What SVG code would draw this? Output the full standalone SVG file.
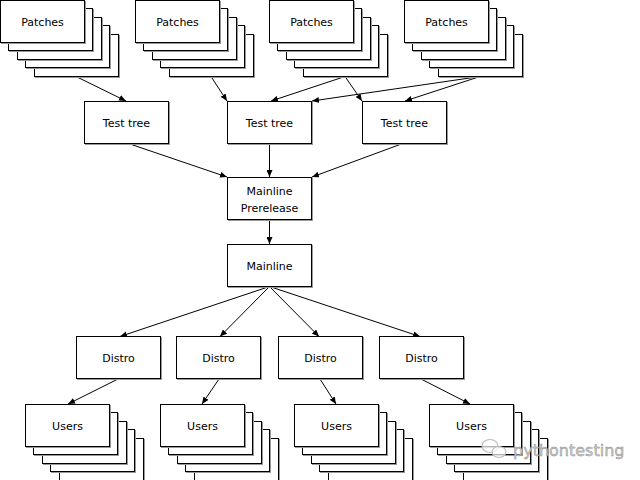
<svg xmlns="http://www.w3.org/2000/svg" xmlns:xlink="http://www.w3.org/1999/xlink" width="640" height="480" viewBox="0 0 640 480">
<defs>
<style>
.b{fill:#fff;stroke:#000;stroke-width:1}
.s{fill:none;stroke:#999;stroke-width:1}
.t{font-family:"DejaVu Sans",sans-serif;font-size:11px;fill:#000;text-anchor:middle}
.c{fill:none;stroke:#000;stroke-width:1;marker-end:url(#ah)}
.wm{font-family:"DejaVu Sans",sans-serif;font-size:16px;fill:#c8c8c8;stroke:#888;stroke-width:0.4}
</style>
<marker id="ah" markerUnits="userSpaceOnUse" markerWidth="8" markerHeight="6" refX="7" refY="3" orient="auto">
<path d="M0,0 L7,3 L0,6 z" fill="#000"/>
</marker>
<g id="box"><rect class="s" x="1.5" y="1.5" width="84" height="42"/><rect class="b" x="0.5" y="0.5" width="84" height="42"/></g>
<g id="stack">
<use xlink:href="#box" x="34" y="34"/>
<use xlink:href="#box" x="25" y="25"/>
<use xlink:href="#box" x="17" y="17"/>
<use xlink:href="#box" x="8" y="8"/>
<use xlink:href="#box" x="0" y="0"/>
</g>
</defs>
<rect width="640" height="480" fill="#fff"/>
<g id="connectors">
<line class="c" x1="76" y1="76.5" x2="126" y2="101"/>
<line class="c" x1="211" y1="76.5" x2="227" y2="101"/>
<line class="c" x1="345" y1="76.5" x2="271" y2="101"/>
<line class="c" x1="345" y1="76.5" x2="362" y2="101"/>
<line class="c" x1="480" y1="76.5" x2="312" y2="101"/>
<line class="c" x1="480" y1="76.5" x2="405" y2="101"/>
<line class="c" x1="127" y1="143" x2="227" y2="177"/>
<line class="c" x1="269.5" y1="143" x2="269.5" y2="177"/>
<line class="c" x1="404" y1="143" x2="312" y2="177"/>
<line class="c" x1="269.5" y1="219" x2="269.5" y2="244"/>
<line class="c" x1="269.5" y1="286.5" x2="120" y2="336.5"/>
<line class="c" x1="269.5" y1="286.5" x2="220" y2="336.5"/>
<line class="c" x1="269.5" y1="286.5" x2="319" y2="336.5"/>
<line class="c" x1="269.5" y1="286.5" x2="420" y2="336.5"/>
<line class="c" x1="118" y1="379" x2="68" y2="404"/>
<line class="c" x1="219" y1="379" x2="202" y2="404"/>
<line class="c" x1="320" y1="379" x2="336" y2="404"/>
<line class="c" x1="421" y1="379" x2="470" y2="404"/>
</g>
<g id="patches1"><use xlink:href="#stack" x="0" y="0"/><text class="t" x="42.5" y="25.5">Patches</text></g>
<g id="patches2"><use xlink:href="#stack" x="135" y="0"/><text class="t" x="177.5" y="25.5">Patches</text></g>
<g id="patches3"><use xlink:href="#stack" x="269" y="0"/><text class="t" x="311.5" y="25.5">Patches</text></g>
<g id="patches4"><use xlink:href="#stack" x="404" y="0"/><text class="t" x="446.5" y="25.5">Patches</text></g>
<g id="testtree1"><use xlink:href="#box" x="84" y="101"/><text class="t" x="126.5" y="126.5">Test tree</text></g>
<g id="testtree2"><use xlink:href="#box" x="227" y="101"/><text class="t" x="269.5" y="126.5">Test tree</text></g>
<g id="testtree3"><use xlink:href="#box" x="362" y="101"/><text class="t" x="404.5" y="126.5">Test tree</text></g>
<g id="prerelease"><use xlink:href="#box" x="227" y="177"/><text class="t" x="269.5" y="194.5">Mainline</text><text class="t" x="269.5" y="211.5">Prerelease</text></g>
<g id="mainline"><use xlink:href="#box" x="227" y="244"/><text class="t" x="269.5" y="269.5">Mainline</text></g>
<g id="distro1"><use xlink:href="#box" x="76" y="336"/><text class="t" x="118.5" y="361.5">Distro</text></g>
<g id="distro2"><use xlink:href="#box" x="176" y="336"/><text class="t" x="218.5" y="361.5">Distro</text></g>
<g id="distro3"><use xlink:href="#box" x="278" y="336"/><text class="t" x="320.5" y="361.5">Distro</text></g>
<g id="distro4"><use xlink:href="#box" x="379" y="336"/><text class="t" x="421.5" y="361.5">Distro</text></g>
<g id="users1"><use xlink:href="#stack" x="25" y="404"/><text class="t" x="67.5" y="429.5">Users</text></g>
<g id="users2"><use xlink:href="#stack" x="160" y="404"/><text class="t" x="202.5" y="429.5">Users</text></g>
<g id="users3"><use xlink:href="#stack" x="294" y="404"/><text class="t" x="336.5" y="429.5">Users</text></g>
<g id="users4"><use xlink:href="#stack" x="429" y="404"/><text class="t" x="471.5" y="429.5">Users</text></g>
<g id="watermark">
<ellipse cx="490" cy="446" rx="8" ry="6.5" fill="#fff" fill-opacity="0.7" stroke="#bbb" stroke-width="1.2"/>
<ellipse cx="499" cy="452" rx="7" ry="5.5" fill="#fff" fill-opacity="0.7" stroke="#bbb" stroke-width="1.2"/>
<text class="wm" x="513" y="456">pythontesting</text>
</g>
</svg>
